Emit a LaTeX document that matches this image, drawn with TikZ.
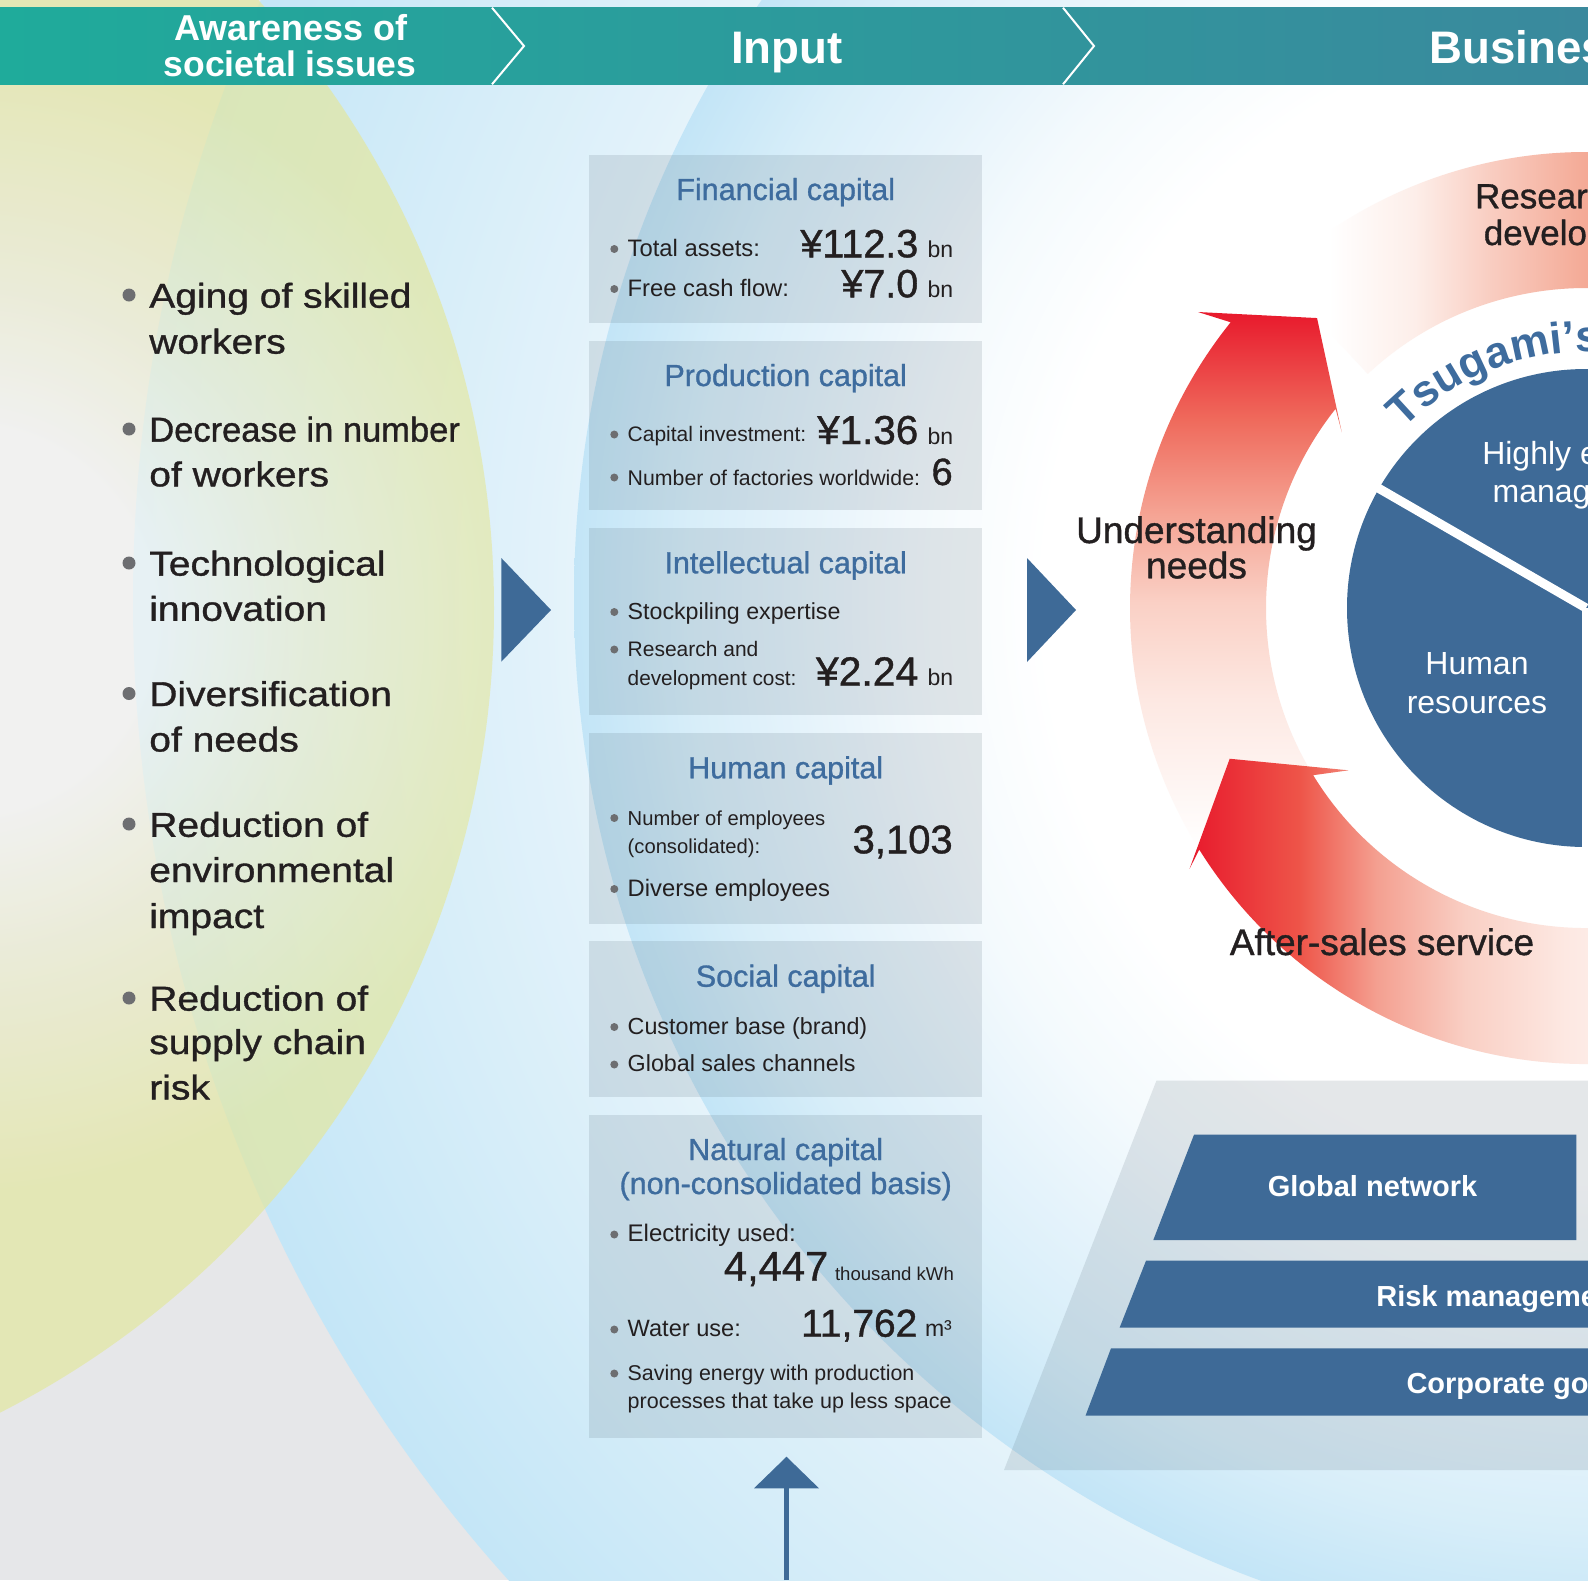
\documentclass[tikz,border=0pt]{standalone}
\usepackage{fontspec}
\setmainfont{Liberation Sans}
\newfontface\medfont{Liberation Sans}[FakeBold=1]
\newfontface\leftfont{Liberation Sans}[FakeBold=1, FakeStretch=1.13]
\usetikzlibrary{calc,decorations.text,arrows.meta}
\definecolor{ink}{RGB}{35,31,32}
\definecolor{dblue}{RGB}{62,106,151}
\definecolor{hblue}{RGB}{62,108,158}
\definecolor{bulgray}{RGB}{109,110,113}
\definecolor{basegray}{RGB}{230,231,233}
\definecolor{skyA}{RGB}{196,230,247}
\definecolor{skyB}{RGB}{226,242,250}
\definecolor{skyC}{RGB}{244,250,253}
\definecolor{skyD}{RGB}{229,243,251}
\definecolor{skyE}{RGB}{216,238,249}
\definecolor{skyF}{RGB}{195,229,247}
\definecolor{ylw}{RGB}{227,231,159}
\definecolor{ylwB}{RGB}{236,237,206}
\definecolor{glowc}{RGB}{246,246,244}
\definecolor{boxtint}{RGB}{70,90,105}
\definecolor{hdrL}{RGB}{31,171,155}
\definecolor{hdrR}{RGB}{58,137,157}
\definecolor{ared}{RGB}{232,25,44}
\definecolor{rA}{RGB}{239,106,92}
\definecolor{rB}{RGB}{245,165,149}
\definecolor{rC}{RGB}{250,208,197}
\definecolor{rD}{RGB}{253,232,226}
\definecolor{rE}{RGB}{238,85,73}
\definecolor{rF}{RGB}{244,160,145}
\definecolor{rG}{RGB}{249,207,196}
\definecolor{salA}{RGB}{253,238,233}
\definecolor{salB}{RGB}{249,205,193}
\definecolor{salC}{RGB}{243,165,144}
\definecolor{salD}{RGB}{238,138,116}
\newcommand\fsz[1]{\fontsize{#1}{#1}\selectfont}
\newcommand\tsufont{\bfseries\fontsize{44}{44}\selectfont\color{hblue}}
\pgfdeclareradialshading{outerglow}{\pgfpointorigin}{color(0bp)=(white); color(13.75bp)=(white); color(18bp)=(skyB); color(25bp)=(skyA); color(50bp)=(skyA)}
\pgfdeclareradialshading{innerglow}{\pgfpointorigin}{color(0bp)=(white); color(13.75bp)=(white); color(17bp)=(skyC); color(19.75bp)=(skyD); color(22.25bp)=(skyE); color(25bp)=(skyF); color(50bp)=(skyF)}
\pgfdeclareradialshading{yglow}{\pgfpointorigin}{color(0bp)=(glowc); color(6bp)=(glowc); color(11bp)=(ylwB); color(18bp)=(ylw); color(50bp)=(ylw)}
\pgfdeclareverticalshading{bandA}{100bp}{color(0bp)=(white); color(25bp)=(white); color(39bp)=(rD); color(48bp)=(rC); color(56bp)=(rB); color(65bp)=(rA); color(75bp)=(ared); color(100bp)=(ared)}
\pgfdeclarehorizontalshading{bandC}{100bp}{color(0bp)=(ared); color(25bp)=(ared); color(35bp)=(rE); color(42bp)=(rF); color(50bp)=(rG); color(59bp)=(rD); color(75bp)=(white); color(100bp)=(white)}
\pgfdeclarehorizontalshading{bandB}{100bp}{color(0bp)=(white); color(30bp)=(white); color(38bp)=(salA); color(45bp)=(salB); color(55bp)=(salC); color(75bp)=(salD); color(100bp)=(salD)}
\tikzset{
  every node/.style={inner sep=0pt, outer sep=0pt},
  ltxt/.style={anchor=base west, text=ink, font=\leftfont\fsz{34.5}},
  lbul/.style={circle, fill=bulgray, minimum size=13pt},
  bbul/.style={circle, fill=bulgray, minimum size=8pt},
  caphead/.style={anchor=base, text=hblue, font=\medfont\fsz{30.5}},
  body/.style={anchor=base west, text=ink},
  bignum/.style={anchor=base east, text=ink, font=\medfont\fsz{40}},
  unitt/.style={anchor=base west, text=ink, font=\fsz{23}},
  hdr/.style={text=white, font=\bfseries\fsz{36}},
  wheeltxt/.style={anchor=base, text=ink, font=\medfont\fsz{37}},
  pietxt/.style={anchor=base, text=white, font=\fsz{32}},
  blocktxt/.style={text=white, font=\bfseries\fsz{29}},
  capbox/.style={fill=boxtint, opacity=0.14},
  playtri/.style={fill=dblue},
}
\begin{document}
\begin{tikzpicture}[x=1pt,y=-1pt]
\useasboundingbox (0,0) rectangle (1588,1580);
\clip (0,0) rectangle (1588,1580);
% ---------- background ----------
\fill[basegray] (0,0) rectangle (1588,1580);
\shade[shading=outerglow] (1600,600) circle (1467);
\shade[shading=innerglow] (1620,598) circle (1046);
\begin{scope}
  \clip (-408,608) circle (902);
  \shade[shading=yglow, opacity=0.7] (-840,-180) rectangle (760,1420);
\end{scope}
% ---------- header ----------
\shade[left color=hdrL, right color=hdrR] (0,7.7) rectangle (1588,84.3);
\draw[white, line width=2pt] (492,7.7) -- (524,46) -- (492,84.3);
\draw[white, line width=2pt] (1063,7.7) -- (1094,46) -- (1063,84.3);
\node[hdr, anchor=base] (h1a) at (291,40.7) {Awareness of};
\node[hdr, anchor=base, font=\bfseries\fsz{35.5}] (h1b) at (290,76) {societal issues};
\node[hdr, anchor=base, font=\bfseries\fsz{45.6}] (h2) at (787,63.3) {Input};
\node[hdr, anchor=base west, font=\bfseries\fsz{45.6}] (h3) at (1429.6,63.3) {Business};
% ---------- left column ----------
\node[lbul] (lb1) at (129,295) {};
\node[ltxt] (l1a) at (149.3,307.7) {Aging of skilled};
\node[ltxt] (l1b) at (149.3,353.6) {workers};
\node[lbul] (lb2) at (129,429) {};
\node[ltxt, font=\medfont\fsz{34.5}] (l2a) at (149.3,441.6) {Decrease in number};
\node[ltxt] (l2b) at (149.3,486.4) {of workers};
\node[lbul] (lb3) at (129,563) {};
\node[ltxt] (l3a) at (149.3,575.6) {Technological};
\node[ltxt] (l3b) at (149.3,620.8) {innovation};
\node[lbul] (lb4) at (129,693.5) {};
\node[ltxt] (l4a) at (149.3,706) {Diversification};
\node[ltxt] (l4b) at (149.3,751.5) {of needs};
\node[lbul] (lb5) at (129,824) {};
\node[ltxt] (l5a) at (149.3,836.8) {Reduction of};
\node[ltxt] (l5b) at (149.3,882) {environmental};
\node[ltxt] (l5c) at (149.3,928) {impact};
\node[lbul] (lb6) at (129,998) {};
\node[ltxt] (l6a) at (149.3,1010.6) {Reduction of};
\node[ltxt] (l6b) at (149.3,1054) {supply chain};
\node[ltxt] (l6c) at (149.3,1099.5) {risk};
% ---------- play triangles ----------
\fill[playtri] (501.3,558) -- (551,610) -- (501.3,661.7) -- cycle;
\fill[playtri] (1027,558) -- (1076,610) -- (1027,662) -- cycle;
% ---------- capital boxes ----------
\fill[capbox] (589,155) rectangle (982.4,323.3);
\fill[capbox] (589,341) rectangle (982.4,510);
\fill[capbox] (589,528.3) rectangle (982.4,715);
\fill[capbox] (589,733.3) rectangle (982.4,924);
\fill[capbox] (589,940.7) rectangle (982.4,1096.7);
\fill[capbox] (589,1115) rectangle (982.4,1438);
% box 1
\node[caphead] (c1) at (785.7,200) {Financial capital};
\node[bbul] (c1b1) at (614.3,249) {};
\node[body, font=\fsz{23.8}] (c1t1) at (627.7,256.7) {Total assets:};
\node[bignum, font=\medfont\fsz{39.5}] (c1n1) at (918.3,257.3) {¥112.3};
\node[unitt] (c1u1) at (927.7,257.3) {bn};
\node[bbul] (c1b2) at (614.3,289) {};
\node[body, font=\fsz{23.8}] (c1t2) at (627.7,296.7) {Free cash flow:};
\node[bignum, font=\medfont\fsz{39.5}] (c1n2) at (918.3,297.3) {¥7.0};
\node[unitt] (c1u2) at (927.7,297.3) {bn};
% box 2
\node[caphead] (c2) at (785.7,386) {Production capital};
\node[bbul] (c2b1) at (614.3,434.5) {};
\node[body, font=\fsz{21}] (c2t1) at (627.7,441.7) {Capital investment:};
\node[bignum, font=\medfont\fsz{40.4}] (c2n1) at (918.3,444) {¥1.36};
\node[unitt] (c2u1) at (927.7,444) {bn};
\node[bbul] (c2b2) at (614.3,477.5) {};
\node[body, font=\fsz{21.3}] (c2t2) at (627.7,485) {Number of factories worldwide:};
\node[bignum, font=\medfont\fsz{38}] (c2n2) at (952.7,485) {6};
% box 3
\node[caphead] (c3) at (785.7,573.3) {Intellectual capital};
\node[bbul] (c3b1) at (614.3,612) {};
\node[body, font=\fsz{23.2}] (c3t1) at (627.7,619.3) {Stockpiling expertise};
\node[bbul] (c3b2) at (614.3,649.5) {};
\node[body, font=\fsz{21}] (c3t2) at (627.7,656.7) {Research and};
\node[body, font=\fsz{20.8}] (c3t3) at (627.7,685.7) {development cost:};
\node[bignum, font=\medfont\fsz{40.9}] (c3n1) at (918.3,685.7) {¥2.24};
\node[unitt] (c3u1) at (927.7,685.7) {bn};
% box 4
\node[caphead] (c4) at (785.7,778.3) {Human capital};
\node[bbul] (c4b1) at (614.3,818) {};
\node[body, font=\fsz{20.2}] (c4t1) at (627.7,825) {Number of employees};
\node[body, font=\fsz{20.2}] (c4t2) at (627.7,853.3) {(consolidated):};
\node[bignum, font=\medfont\fsz{40}] (c4n1) at (952.7,853.3) {3,103};
\node[bbul] (c4b2) at (614.3,889) {};
\node[body, font=\fsz{23.8}] (c4t3) at (627.7,896) {Diverse employees};
% box 5
\node[caphead] (c5) at (785.7,986.7) {Social capital};
\node[bbul] (c5b1) at (614.3,1027) {};
\node[body, font=\fsz{23.3}] (c5t1) at (627.7,1034.3) {Customer base (brand)};
\node[bbul] (c5b2) at (614.3,1064.5) {};
\node[body, font=\fsz{23.3}] (c5t2) at (627.7,1071.7) {Global sales channels};
% box 6
\node[caphead] (c6a) at (785.7,1160) {Natural capital};
\node[caphead] (c6b) at (785.7,1194) {(non-consolidated basis)};
\node[bbul] (c6b1) at (614.3,1234.5) {};
\node[body, font=\fsz{24}] (c6t1) at (627.7,1241.7) {Electricity used:};
\node[bignum, font=\medfont\fsz{41.7}] (c6n1) at (828.3,1280.7) {4,447};
\node[body, font=\fsz{18.6}] (c6u1) at (835,1280.7) {thousand kWh};
\node[bbul] (c6b2) at (614.3,1329.5) {};
\node[body, font=\fsz{23.6}] (c6t2) at (627.7,1336.7) {Water use:};
\node[bignum, font=\medfont\fsz{38.9}] (c6n2) at (917.3,1336.7) {11,762};
\node[unitt] (c6u2) at (925,1336.7) {m³};
\node[bbul] (c6b3) at (614.3,1373.5) {};
\node[body, font=\fsz{21.4}] (c6t3) at (627.7,1380.7) {Saving energy with production};
\node[body, font=\fsz{21.5}] (c6t4) at (627.7,1408.3) {processes that take up less space};
% ---------- up arrow ----------
\coordinate (arrB) at (786.5,1580);
\coordinate (arrT) at (786.5,1456.7);
\draw[dblue, line width=4.7pt, -{Triangle[width=64pt,length=31.6pt]}] (arrB) -- (arrT);
% ---------- wheel ----------
\coordinate (O) at (1586,608);
\fill[white] (O) circle (322);
\shade[shading=bandB] ($(O)+(-133:320)$) arc[start angle=-133, end angle=-60, radius=320]
  -- ($(O)+(-60:456)$) arc[start angle=-60, end angle=-133, radius=456] -- cycle;
\shade[shading=bandA] ($(O)+(-142.66:488)$) -- ($(O)+(-132.85:395.5)$) -- ($(O)+(-144.24:301)$)
  -- ($(O)+(-141.5:320)$) arc[start angle=-141.5, end angle=-212, radius=320]
  -- ($(O)+(-212:456)$) arc[start angle=-212, end angle=-141.2, radius=456] -- cycle;
\shade[shading=bandC] ($(O)+(-202.93:386.9)$) -- ($(O)+(-214.36:287.6)$)
  -- ($(O)+(-211.5:320)$) arc[start angle=-211.5, end angle=-290, radius=320]
  -- ($(O)+(-290:456)$) arc[start angle=-290, end angle=-212, radius=456]
  -- ($(O)+(-213.33:474.5)$) -- cycle;
\fill[dblue] (O) circle (239);
\draw[white, line width=9pt] (O) -- ++(-150:260);
\draw[white, line width=8pt] (O) -- ++(90:260);
\path[decorate, decoration={text along path, text={|\tsufont|Tsugami’s}, text align=left}]
  ($(O)+(-135.5:256)$) arc[start angle=-135.5, end angle=-70, radius=256];
\node[wheeltxt] (u1) at (1196.5,543) {Understanding};
\node[wheeltxt] (u2) at (1196.5,578.3) {needs};
\node[wheeltxt] (as) at (1382,955) {After-sales service};
\node[wheeltxt, font=\medfont\fsz{35}] (rd1) at (1584,208.3) {Research and};
\node[wheeltxt, font=\medfont\fsz{35}] (rd2) at (1584,245) {development};
\node[pietxt] (p1a) at (1586,464.3) {Highly efficient};
\node[pietxt] (p1b) at (1586,502.7) {management};
\node[pietxt] (p2a) at (1477,674) {Human};
\node[pietxt] (p2b) at (1477,713) {resources};
% ---------- foundation blocks ----------
\fill[capbox] (1156.4,1080.7) -- (1600,1080.7) -- (1600,1470) -- (1004,1470) -- cycle;
\fill[dblue] (1194,1134.7) -- (1576.4,1134.7) -- (1576.4,1240) -- (1153.3,1240) -- cycle;
\fill[dblue] (1146,1260.7) -- (1600,1260.7) -- (1600,1327.7) -- (1119.6,1327.7) -- cycle;
\fill[dblue] (1111,1348.3) -- (1600,1348.3) -- (1600,1415.7) -- (1085.5,1415.7) -- cycle;
\node[blocktxt, anchor=base] (g1) at (1372.5,1196.7) {Global network};
\node[blocktxt, anchor=base west] (g2) at (1376.3,1306.7) {Risk management};
\node[blocktxt, anchor=base west] (g3) at (1406.5,1393.3) {Corporate governance};
\end{tikzpicture}
\end{document}
